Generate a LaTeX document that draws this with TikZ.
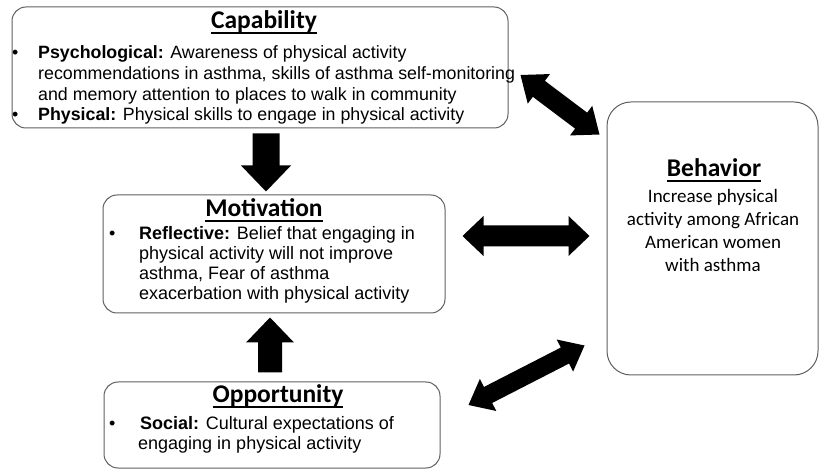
\documentclass[tikz,border=0pt]{standalone}
\usepackage{fontspec}
\setmainfont{Liberation Sans}
\newfontfamily\calfont{Carlito}
\usetikzlibrary{calc}

\definecolor{boxgray}{RGB}{95,95,95}

% underlined heading with a fixed gap below the baseline
\newcommand\boxtitle[1]{\vtop{\hbox{\raisebox{0pt}[\height][0pt]{#1}}\kern3.5pt\hrule height 1.5pt}}

% block arrow with one head: #1 tail, #2 tip, #3 half shaft, #4 half head, #5 head length
\newcommand\blocksingle[5]{%
  \coordinate (ba-s) at #1;
  \coordinate (ba-t) at #2;
  \coordinate (ba-h) at ($(ba-t)!#5!(ba-s)$);
  \fill[blockarrow] ($(ba-s)!#3!90:(ba-t)$) -- ($(ba-h)!#3!90:(ba-t)$)
    -- ($(ba-h)!#4!90:(ba-t)$) -- (ba-t) -- ($(ba-h)!#4!-90:(ba-t)$)
    -- ($(ba-h)!#3!-90:(ba-t)$) -- ($(ba-s)!#3!-90:(ba-t)$) -- cycle;}

% block arrow with two heads: #1 and #2 tips
\newcommand\blockdouble[5]{%
  \coordinate (bd-a) at #1;
  \coordinate (bd-b) at #2;
  \coordinate (bd-ha) at ($(bd-a)!#5!(bd-b)$);
  \coordinate (bd-hb) at ($(bd-b)!#5!(bd-a)$);
  \fill[blockarrow] (bd-a) -- ($(bd-ha)!#4!90:(bd-b)$) -- ($(bd-ha)!#3!90:(bd-b)$)
    -- ($(bd-hb)!#3!-90:(bd-a)$) -- ($(bd-hb)!#4!-90:(bd-a)$) -- (bd-b)
    -- ($(bd-hb)!#4!90:(bd-a)$) -- ($(bd-hb)!#3!90:(bd-a)$)
    -- ($(bd-ha)!#3!-90:(bd-b)$) -- ($(bd-ha)!#4!-90:(bd-b)$) -- cycle;}

\tikzset{
  box/.style={draw=boxgray, line width=1pt, rounded corners=14pt, inner sep=0pt},
  ttl/.style={font=\calfont\bfseries\fontsize{25.5}{30}\selectfont, inner sep=0pt, anchor=base},
  body/.style={font=\fontsize{18}{20}\selectfont, inner sep=0pt, anchor=base west},
  goal/.style={font=\calfont\fontsize{19}{23}\selectfont, inner sep=0pt, anchor=base},
  blockarrow/.style={fill=black}
}

\begin{document}
\begin{tikzpicture}[x=1pt,y=-1pt]
\useasboundingbox (0,0) rectangle (820,470);

% boxes
\node[box, minimum width=496pt, minimum height=121pt] (cap) at (260,67.5) {};
\node[box, minimum width=342pt, minimum height=118pt] (mot) at (274,254) {};
\node[box, minimum width=336pt, minimum height=86pt]  (opp) at (272,425) {};
\node[box, rounded corners=24pt, minimum width=211pt, minimum height=273pt] (beh) at (712.5,238.5) {};

% Capability
\node[ttl] (captitle) at (264,29) {\boxtitle{Capability}};
\node[body, font=\fontsize{17.8}{20.6}\selectfont] (captext) at (12,59) {%
\begin{tabular}[t]{@{}p{26pt}@{}l@{}}
\textbullet & \textbf{Psychological:} Awareness of physical activity\\
 & recommendations in asthma, skills of asthma self-monitoring\\
 & and memory attention to places to walk in community\\
\textbullet & \textbf{Physical:} Physical skills to engage in physical activity
\end{tabular}};

% Motivation
\node[ttl] (mottitle) at (264,217) {\boxtitle{Motivation}};
\node[body] (mottext) at (109,240) {%
\begin{tabular}[t]{@{}p{30pt}@{}l@{}}
\textbullet & \textbf{Reflective:} Belief that engaging in\\
 & physical activity will not improve\\
 & asthma, Fear of asthma\\
 & exacerbation with physical activity
\end{tabular}};

% Opportunity
\node[ttl] (opptitle) at (278,403) {\boxtitle{Opportunity}};
\node[body] (opptext) at (109,430) {%
\begin{tabular}[t]{@{}p{29pt}@{}l@{}}
\textbullet & \hspace{2pt}\textbf{Social:} Cultural expectations of\\
 & engaging in physical activity
\end{tabular}};

% Behavior
\node[ttl] (behtitle) at (714,177) {\boxtitle{Behavior}};
\node[goal] (behtext) at (713,203) {%
\begin{tabular}[t]{@{}c@{}}
Increase physical\\
activity among African\\
American women\\
with asthma
\end{tabular}};

% arrows between the components
\blocksingle{($(cap.south)+(6,5)$)}{($(mot.north)+(-8,-3)$)}{13.5pt}{25pt}{26pt}
\blocksingle{($(opp.north)+(-2,-9)$)}{($(mot.south)+(-4,4)$)}{12pt}{24pt}{25pt}
\blockdouble{($(mot.east)+(17,-18)$)}{($(beh.west)+(-17,-2.5)$)}{10.5pt}{20pt}{21pt}
\blockdouble{($(cap.east)+(12,7.5)$)}{($(beh.north west)+(-7,33)$)}{10pt}{18.5pt}{23pt}
\blockdouble{($(opp.east)+(28,-20)$)}{($(beh.south west)+(-22,-30)$)}{9pt}{18pt}{22pt}
\end{tikzpicture}
\end{document}
